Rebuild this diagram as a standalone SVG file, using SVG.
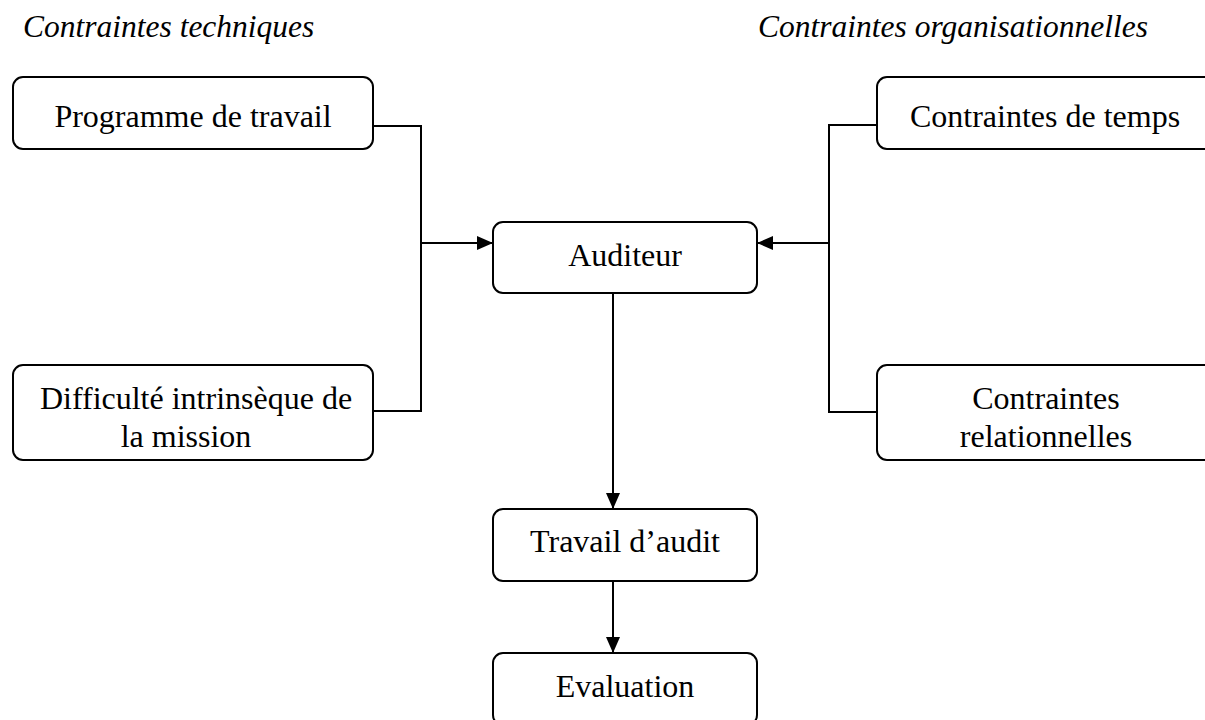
<svg xmlns="http://www.w3.org/2000/svg" width="1205" height="720" viewBox="0 0 1205 720">
<style>
.box{fill:#fff;stroke:#000;stroke-width:2}
.t{font-family:"Liberation Serif","Times New Roman",serif;font-size:32px;fill:#000}
.h{font-family:"Liberation Serif","Times New Roman",serif;font-size:31.5px;font-style:italic;fill:#000}
.c{text-anchor:middle}
.ln{fill:none;stroke:#000;stroke-width:2}
</style>
<defs>
<marker id="ar" viewBox="0 0 16 14" refX="16" refY="7" markerWidth="16" markerHeight="14" markerUnits="userSpaceOnUse" orient="auto">
<path d="M0,0 L16,7 L0,14 Z" fill="#000"/>
</marker>
</defs>
<rect width="1205" height="720" fill="#fff"/>
<text class="h" x="23" y="37">Contraintes techniques</text>
<text class="h" x="758" y="37">Contraintes organisationnelles</text>
<g id="connectors">
<path class="ln" d="M373,126 H421 V411 H373"/>
<path class="ln" d="M421,243 H493" marker-end="url(#ar)"/>
<path class="ln" d="M877,125 H829 V412 H877"/>
<path class="ln" d="M829,243 H757" marker-end="url(#ar)"/>
<path class="ln" d="M613,293 V509" marker-end="url(#ar)"/>
<path class="ln" d="M613,581 V653" marker-end="url(#ar)"/>
</g>
<g id="programme">
<rect class="box" x="13" y="77" width="360" height="72" rx="10"/>
<text class="t c" x="193" y="127">Programme de travail</text>
</g>
<g id="difficulte">
<rect class="box" x="13" y="365" width="360" height="95" rx="10"/>
<text class="t c" x="196" y="409">Difficulté intrinsèque de</text>
<text class="t c" x="186" y="447">la mission</text>
</g>
<g id="temps">
<rect class="box" x="877" y="77" width="340" height="72" rx="10"/>
<text class="t c" x="1045" y="127">Contraintes de temps</text>
</g>
<g id="relationnelles">
<rect class="box" x="877" y="365" width="340" height="95" rx="10"/>
<text class="t c" x="1046" y="409">Contraintes</text>
<text class="t c" x="1046" y="447">relationnelles</text>
</g>
<g id="auditeur">
<rect class="box" x="493" y="222" width="264" height="71" rx="10"/>
<text class="t c" x="625" y="266">Auditeur</text>
</g>
<g id="travail">
<rect class="box" x="493" y="509" width="264" height="72" rx="10"/>
<text class="t c" x="625" y="552">Travail d’audit</text>
</g>
<g id="evaluation">
<rect class="box" x="493" y="653" width="264" height="72" rx="10"/>
<text class="t c" x="625" y="697">Evaluation</text>
</g>
</svg>
